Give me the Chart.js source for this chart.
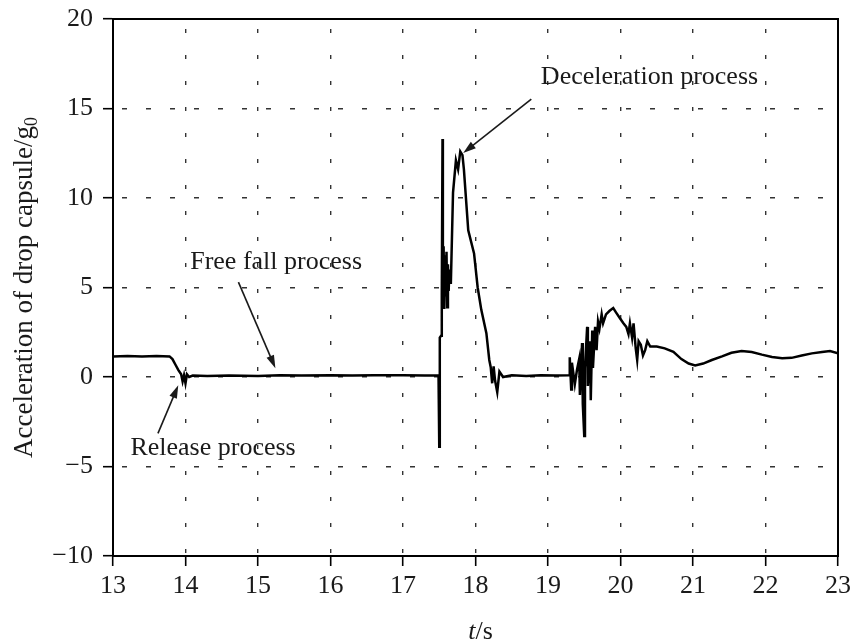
<!DOCTYPE html>
<html>
<head>
<meta charset="utf-8">
<script src="https://cdn.jsdelivr.net/npm/chart.js@4/dist/chart.umd.min.js"></script>
<style>
html,body{margin:0;padding:0;background:#fff;}
#wrap{width:852px;height:641px;}
</style>
</head>
<body>
<div id="wrap"><canvas id="c" width="852" height="641"></canvas></div>
<script>
// ---- data ----
const timeS = [
 13.0, 13.2, 13.4, 13.6, 13.78, 13.82, 13.86, 13.9, 13.94, 13.96, 13.98, 14.0, 14.02, 14.05, 14.1,
 14.3, 14.6, 15.0, 15.3, 15.6, 16.0, 16.3, 16.6, 17.0, 17.3, 17.49,
 17.5, 17.505, 17.51, 17.525, 17.535, 17.545, 17.55, 17.56, 17.57, 17.58, 17.59, 17.6, 17.61, 17.62,
 17.63, 17.64, 17.66, 17.69, 17.73, 17.76, 17.79, 17.82, 17.84, 17.9, 17.98, 18.03, 18.08, 18.15,
 18.19, 18.21, 18.23, 18.25, 18.27, 18.3, 18.33, 18.38, 18.5, 18.7, 18.9, 19.1, 19.29,
 19.3, 19.32, 19.33, 19.37, 19.4, 19.43, 19.44, 19.47, 19.48, 19.5, 19.51, 19.54, 19.55, 19.58,
 19.59, 19.61, 19.62, 19.65, 19.67, 19.69, 19.71, 19.74, 19.76, 19.8, 19.85, 19.9, 19.94, 19.99,
 20.04, 20.08, 20.11, 20.13, 20.16, 20.18, 20.21, 20.23, 20.25, 20.28, 20.31, 20.34, 20.37, 20.41,
 20.5, 20.61, 20.73, 20.84, 20.94, 21.03, 21.14, 21.26, 21.4, 21.53, 21.67, 21.81, 21.95, 22.09,
 22.23, 22.36, 22.5, 22.64, 22.78, 22.89, 23.0
];
const accelG = [
 1.15, 1.18, 1.15, 1.17, 1.15, 1.0, 0.7, 0.4, 0.15, -0.25, 0.1, -0.35, 0.15, 0.0, 0.08,
 0.05, 0.08, 0.06, 0.1, 0.08, 0.1, 0.08, 0.1, 0.1, 0.08, 0.1,
 -3.9, 0.1, 2.2, 2.3, 4.5, 13.3, 4.2, 7.3, 3.8, 6.8, 4.5, 7.0, 3.9, 6.3,
 4.8, 6.0, 5.2, 10.3, 12.1, 11.6, 12.6, 12.4, 11.6, 8.2, 6.9, 5.0, 3.75, 2.45,
 0.95, 0.55, -0.35, 0.6, -0.2, -0.85, 0.3, 0.0, 0.1, 0.05, 0.1, 0.08, 0.1,
 1.1, -0.7, 0.8, -0.4, 0.4, 1.0, -1.0, 1.9, -1.5, -3.3, 0.5, 2.8, -0.5, 2.0,
 -1.3, 2.6, 0.5, 2.8, 1.5, 3.1, 2.7, 3.5, 3.0, 3.5, 3.7, 3.85, 3.6, 3.3,
 3.0, 2.8, 2.4, 3.0, 2.2, 3.0, 1.6, 0.95, 2.0, 1.8, 1.2, 1.5, 2.0, 1.7,
 1.7, 1.6, 1.4, 1.0, 0.75, 0.65, 0.75, 0.95, 1.15, 1.35, 1.45, 1.4, 1.25, 1.12,
 1.05, 1.07, 1.2, 1.32, 1.4, 1.45, 1.33
];
const xTicks = [13, 14, 15, 16, 17, 18, 19, 20, 21, 22, 23];
const yTicks = [-10, -5, 0, 5, 10, 15, 20];

// annotation texts (positions in data units)
const noteTexts = ["Deceleration process", "Free fall process", "Release process"];
const noteTextAt = [[20.40, 16.76], [15.25, 6.42], [14.38, -3.98]];
const noteArrowFrom = [[18.77, 15.53], [14.73, 5.30], [13.62, -3.15]];
const noteArrowTo = [[17.83, 12.51], [15.24, 0.49], [13.90, -0.46]];

const FONT = "'Liberation Serif','DejaVu Serif',serif";
const INK = '#1a1a1a';

const points = timeS.map((t, i) => ({x: t, y: accelG[i]}));

const decor = {
  id: 'decor',
  beforeDraw(chart) {
    const c = chart.ctx;
    c.save(); c.fillStyle = '#fff'; c.fillRect(0, 0, chart.width, chart.height); c.restore();
  },
  afterDatasetsDraw(chart) {
    const c = chart.ctx, a = chart.chartArea, sx = chart.scales.x, sy = chart.scales.y;
    c.save();
    // frame
    c.strokeStyle = '#000'; c.lineWidth = 2;
    c.strokeRect(a.left, a.top, a.right - a.left, a.bottom - a.top);
    // annotations
    c.fillStyle = INK; c.strokeStyle = INK;
    c.font = "26px " + FONT; c.textAlign = 'center'; c.textBaseline = 'middle';
    noteTexts.forEach((txt, i) => {
      c.fillText(txt, sx.getPixelForValue(noteTextAt[i][0]), sy.getPixelForValue(noteTextAt[i][1]));
      const x1 = sx.getPixelForValue(noteArrowFrom[i][0]), y1 = sy.getPixelForValue(noteArrowFrom[i][1]);
      const x2 = sx.getPixelForValue(noteArrowTo[i][0]), y2 = sy.getPixelForValue(noteArrowTo[i][1]);
      const ang = Math.atan2(y2 - y1, x2 - x1), L = 13, W = 4;
      c.lineWidth = 1.6;
      c.beginPath(); c.moveTo(x1, y1);
      c.lineTo(x2 - Math.cos(ang) * L * 0.8, y2 - Math.sin(ang) * L * 0.8); c.stroke();
      c.beginPath(); c.moveTo(x2, y2);
      c.lineTo(x2 - Math.cos(ang) * L - Math.sin(ang) * W, y2 - Math.sin(ang) * L + Math.cos(ang) * W);
      c.lineTo(x2 - Math.cos(ang) * L + Math.sin(ang) * W, y2 - Math.sin(ang) * L - Math.cos(ang) * W);
      c.closePath(); c.fill();
    });
    // y title with subscript
    const main = 'Acceleration of drop capsule/g', sub = '0';
    c.font = "27px " + FONT; const w1 = c.measureText(main).width;
    c.font = "18px " + FONT; const w2 = c.measureText(sub).width;
    c.save();
    c.translate(23, (a.top + a.bottom) / 2);
    c.rotate(-Math.PI / 2);
    c.textAlign = 'left'; c.textBaseline = 'alphabetic';
    const x0 = -(w1 + w2) / 2;
    c.font = "27px " + FONT; c.fillText(main, x0, 9);
    c.font = "18px " + FONT; c.fillText(sub, x0 + w1, 14);
    c.restore();
    // x title: italic t + "/s"
    c.textAlign = 'left'; c.textBaseline = 'alphabetic';
    c.font = "italic 26px " + FONT; const wt = c.measureText('t').width;
    c.font = "26px " + FONT; const ws = c.measureText('/s').width;
    const xc = (a.left + a.right) / 2 + 5, xs = xc - (wt + ws) / 2;
    c.font = "italic 26px " + FONT; c.fillText('t', xs, 639);
    c.font = "26px " + FONT; c.fillText('/s', xs + wt, 639);
    c.restore();
  }
};

new Chart(document.getElementById('c'), {
  type: 'line',
  data: {
    datasets: [{
      data: points,
      borderColor: '#000',
      borderWidth: 2.5,
      pointRadius: 0,
      tension: 0,
      fill: false
    }]
  },
  options: {
    responsive: false,
    devicePixelRatio: 1,
    animation: false,
    layout: {padding: {left: 0, top: 19, right: 14, bottom: 0}},
    plugins: {legend: {display: false}, tooltip: {enabled: false}, title: {display: false}},
    scales: {
      x: {
        type: 'linear', min: 13, max: 23,
        afterFit(s) { s.height = 85; s.paddingLeft = 0; s.paddingRight = 0; },
        afterBuildTicks(s) { s.ticks = xTicks.map(v => ({value: v})); },
        ticks: {font: {family: FONT, size: 26}, color: INK, padding: 5, maxRotation: 0},
        grid: {color: '#333', lineWidth: 1.4, tickColor: '#000', tickWidth: 1.6, tickLength: 10},
        border: {display: true, color: '#000', width: 2, dash: [4, 22], dashOffset: -10}
      },
      y: {
        type: 'linear', min: -10, max: 20,
        afterFit(s) { s.width = 113; s.paddingTop = 0; s.paddingBottom = 0; },
        afterBuildTicks(s) { s.ticks = yTicks.map(v => ({value: v})); },
        ticks: {font: {family: FONT, size: 26}, color: INK, padding: 10,
                callback: v => (v < 0 ? '\u2212' + Math.abs(v) : String(v))},
        grid: {color: '#333', lineWidth: 1.4, tickColor: '#000', tickWidth: 1.6, tickLength: 10},
        border: {display: true, color: '#000', width: 2, dash: [5, 19], dashOffset: -8}
      }
    }
  },
  plugins: [decor]
});
</script>
</body>
</html>
